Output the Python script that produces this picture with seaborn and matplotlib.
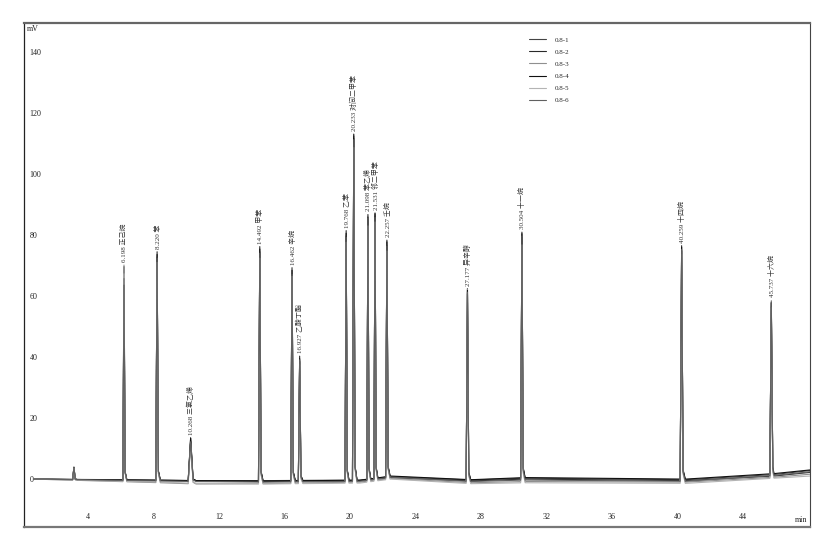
import numpy as np
import pandas as pd
import matplotlib
matplotlib.use("Agg")
import matplotlib.pyplot as plt
import seaborn as sns

# ---------------- data ----------------
RUNS = ["0.8-1", "0.8-2", "0.8-3", "0.8-4", "0.8-5", "0.8-6"]
RUN_COLORS = ["#444444", "#2a2a2a", "#8f8f8f", "#111111", "#b4b4b4", "#606060"]

PEAK_TIMES = [3.14, 6.198, 8.220, 10.268, 14.492, 16.462, 16.927, 19.768,
              20.233, 21.098, 21.531, 22.257, 27.177, 30.504, 40.259, 45.737]
PEAK_NAMES = [None, "正己烷", "苯", "三氯乙烯", "甲苯", "辛烷", "乙酸丁酯", "乙苯",
              "对间二甲苯", "苯乙烯", "邻二甲苯", "壬烷", "异辛醇", "十一烷", "十四烷", "十六烷"]
PEAK_WIDTHS = [0.08, 0.07, 0.08, 0.15, 0.08, 0.08, 0.08, 0.07,
               0.08, 0.07, 0.07, 0.08, 0.08, 0.08, 0.09, 0.09]

HEIGHTS_1 = [4.0, 62, 73, 13.0, 75, 67, 39, 80, 112, 85, 86, 76, 61.0, 79, 75, 55]
HEIGHTS_2 = [4.0, 70, 75, 14.0, 77, 70, 41, 82, 113, 87, 87, 78, 63.0, 81, 77, 57]
HEIGHTS_3 = [4.0, 71, 74, 13.5, 76, 70.5, 40, 81, 111, 86, 86, 77, 63.5, 80, 76, 58]
HEIGHTS_4 = [4.0, 66, 74, 14.0, 76, 69, 40, 81, 113.5, 86, 87, 77, 62.0, 80, 76, 56]
HEIGHTS_5 = [4.0, 68, 72, 13.0, 74, 68, 39, 79, 110, 84, 85, 75, 62.0, 78, 75, 56]
HEIGHTS_6 = [4.0, 64, 73, 13.0, 75, 68, 40, 80, 112, 86, 86, 76, 62.0, 80, 76, 57]
HEIGHTS = [HEIGHTS_1, HEIGHTS_2, HEIGHTS_3, HEIGHTS_4, HEIGHTS_5, HEIGHTS_6]

BASE_T = [0.7, 8.5, 10.6, 14.8, 20.6, 22.5, 27.4, 30.7, 40.5, 45.9, 48.1]
BASE_1 = [0.0, -0.3, -0.5, -0.5, -0.3, 0.8, -0.3, 0.3, -0.2, 1.5, 2.8]
BASE_2 = [0.0, -0.5, -0.6, -0.8, -0.5, 0.5, -0.6, 0.0, -0.5, 1.0, 2.2]
BASE_3 = [0.0, -1.2, -1.6, -1.5, -1.0, 0.2, -1.2, -0.8, -1.0, 0.6, 1.6]
BASE_4 = [0.0, -0.4, -0.5, -0.6, -0.4, 1.0, -0.2, 0.5, 0.0, 1.8, 3.0]
BASE_5 = [0.0, -1.0, -1.4, -1.6, -1.3, 0.0, -1.5, -1.2, -1.4, 0.3, 1.0]
BASE_6 = [0.0, -0.6, -0.8, -1.0, -0.7, 0.6, -0.8, -0.3, -0.7, 1.2, 2.4]
BASES = [BASE_1, BASE_2, BASE_3, BASE_4, BASE_5, BASE_6]

X_TICKS = [4, 8, 12, 16, 20, 24, 28, 32, 36, 40, 44]
Y_TICKS = [0, 20, 40, 60, 80, 100, 120, 140]

# ---------------- build long-form table ----------------
rows = []
for run, heights, base in zip(RUNS, HEIGHTS, BASES):
    pts = [(t, b) for t, b in zip(BASE_T, base)]
    for t, h, w in zip(PEAK_TIMES, heights, PEAK_WIDTHS):
        b0 = float(np.interp(t - w, BASE_T, base))
        b1 = float(np.interp(t + 2.5 * w, BASE_T, base))
        pts += [(t - w, b0), (t, b0 + h), (t + w, b1 + 0.04 * h), (t + 2.5 * w, b1)]
    pts.sort()
    for t, v in pts:
        rows.append({"time": t, "signal": v, "run": run})
df = pd.DataFrame(rows)

# ---------------- plot ----------------
sns.set_style("white")
plt.rcParams["font.family"] = ["Liberation Serif", "Noto Sans CJK SC"]

fig = plt.figure(figsize=(8.36, 5.55), dpi=100)
ax = fig.add_axes([24 / 836, 1 - 527 / 555, 786 / 836, 504 / 555])

sns.lineplot(data=df, x="time", y="signal", hue="run", hue_order=RUNS,
             palette=RUN_COLORS, estimator=None, sort=False, linewidth=0.8,
             ax=ax, legend=True)

ax.set_xlim(0.09, 48.1)
ax.set_ylim(-15.7, 149.5)
ax.set_xlabel("")
ax.set_ylabel("")
ax.set_xticks(X_TICKS)
ax.set_yticks(Y_TICKS)
ax.tick_params(axis="x", direction="in", length=3, width=0.6, pad=-10,
               labelsize=5.8, colors="#222222")
ax.tick_params(axis="y", direction="in", length=2, width=0.6, pad=-4,
               labelsize=5.8, colors="#222222")
for lab in ax.get_yticklabels():
    lab.set_horizontalalignment("left")

for side, col, lw in [("top", "#666666", 1.6), ("bottom", "#777777", 1.6),
                      ("left", "#222222", 0.9), ("right", "#444444", 0.8)]:
    ax.spines[side].set_visible(True)
    ax.spines[side].set_color(col)
    ax.spines[side].set_linewidth(lw)

ax.text(0.004, 0.996, "mV", transform=ax.transAxes, fontsize=5.8,
        ha="left", va="top", color="#222222")
ax.text(0.996, 0.005, "min", transform=ax.transAxes, fontsize=5.8,
        ha="right", va="bottom", color="#222222")

# peak labels
for i, (t, name) in enumerate(zip(PEAK_TIMES, PEAK_NAMES)):
    if name is None:
        continue
    top = max(h[i] + float(np.interp(t, BASE_T, b)) for h, b in zip(HEIGHTS, BASES))
    ax.text(t, top + 1.0, f"{t:.3f} {name}", rotation=90, fontsize=5,
            ha="center", va="bottom", color="#333333")

leg = ax.legend(loc="upper left", bbox_to_anchor=(0.635, 0.985), frameon=False,
                fontsize=5, handlelength=2.4, labelspacing=0.9, handletextpad=1.2)
for line in leg.get_lines():
    line.set_linewidth(0.8)

fig.savefig("out.png", dpi=100)
